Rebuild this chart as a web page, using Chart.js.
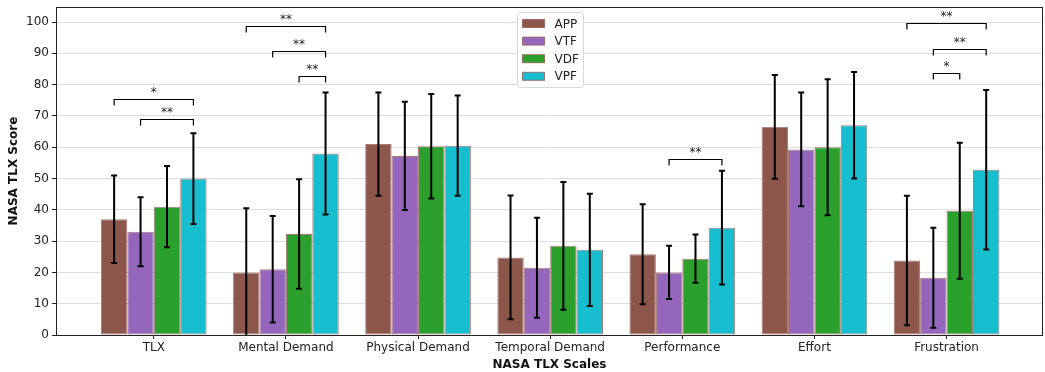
<!DOCTYPE html>
<html>
<head>
<meta charset="utf-8">
<script src="https://cdn.jsdelivr.net/npm/chart.js@4.4.1/dist/chart.umd.min.js"></script>
<style>
  html, body { margin: 0; padding: 0; background: #fff; }
  #wrap { width: 1045px; height: 372px; }
</style>
</head>
<body>
<div id="wrap"><canvas id="tlxChart" width="1045" height="372"></canvas></div>
<script>
// data
const categories = ['TLX', 'Mental Demand', 'Physical Demand', 'Temporal Demand', 'Performance', 'Effort', 'Frustration'];
const seriesNames = ['APP', 'VTF', 'VDF', 'VPF'];
const appMean = [37.0, 20.0, 61.0, 24.8, 25.8, 66.5, 23.8];
const appErr  = [14.0, 20.5, 16.5, 19.8, 16.0, 16.6, 20.7];
const vtfMean = [33.0, 21.0, 57.2, 21.5, 20.0, 59.3, 18.3];
const vtfErr  = [11.0, 17.0, 17.3, 16.0, 8.5, 18.2, 16.0];
const vdfMean = [41.0, 32.3, 60.3, 28.5, 24.4, 60.0, 39.7];
const vdfErr  = [13.0, 17.5, 16.7, 20.4, 7.7, 21.7, 21.7];
const vpfMean = [50.0, 58.0, 60.5, 27.2, 34.3, 67.0, 52.8];
const vpfErr  = [14.5, 19.5, 16.0, 17.9, 18.2, 17.0, 25.5];
const yTicks = [0, 10, 20, 30, 40, 50, 60, 70, 80, 90, 100];

// significance brackets: category, from series, to series, height, label
const sigCategory = [0, 0, 1, 1, 1, 4, 6, 6, 6];
const sigFrom     = [0, 1, 0, 1, 2, 1, 0, 1, 1];
const sigTo       = [3, 3, 3, 3, 3, 3, 3, 3, 2];
const sigHeight   = [75.5, 69.0, 98.7, 90.7, 82.8, 56.3, 99.7, 91.5, 83.7];
const sigLabel    = ['*', '**', '**', '**', '**', '**', '**', '**', '*'];

const colors = ['#8c564b', '#9467bd', '#2ca02c', '#17becf'];
const means = [appMean, vtfMean, vdfMean, vpfMean];
const errs = [appErr, vtfErr, vdfErr, vpfErr];
const FONT = "'DejaVu Sans', sans-serif";
const EDGE = 'rgba(150, 90, 80, 0.8)';

const datasets = seriesNames.map(function (name, s) {
    return {
        label: name,
        data: means[s].map(function (v, i) { return { x: i, y: v }; }),
        backgroundColor: colors[s],
        borderColor: EDGE,
        borderWidth: 1,
        borderSkipped: false,
        categoryPercentage: 0.8,
        barPercentage: 1.0
    };
});

// error bars + brackets + frame + legend
const extras = {
    id: 'extras',
    afterDatasetsDraw(chart) {
        const ctx = chart.ctx;
        const y = chart.scales.y;
        const area = chart.chartArea;

        ctx.save();
        ctx.beginPath();
        ctx.rect(area.left, area.top, area.right - area.left, area.bottom - area.top);
        ctx.clip();
        ctx.strokeStyle = '#000';
        ctx.lineWidth = 2;
        chart.data.datasets.forEach(function (ds, s) {
            const meta = chart.getDatasetMeta(s);
            meta.data.forEach(function (bar, i) {
                const top = y.getPixelForValue(means[s][i] + errs[s][i]);
                const bot = y.getPixelForValue(means[s][i] - errs[s][i]);
                ctx.beginPath();
                ctx.moveTo(bar.x, top); ctx.lineTo(bar.x, bot);
                ctx.moveTo(bar.x - 3, top); ctx.lineTo(bar.x + 3, top);
                ctx.moveTo(bar.x - 3, bot); ctx.lineTo(bar.x + 3, bot);
                ctx.stroke();
            });
        });
        ctx.restore();

        // significance brackets
        ctx.save();
        ctx.strokeStyle = '#000';
        ctx.lineWidth = 1.2;
        ctx.fillStyle = '#222';
        ctx.font = '12px ' + FONT;
        ctx.textAlign = 'center';
        ctx.textBaseline = 'bottom';
        sigCategory.forEach(function (c, k) {
            const x1 = chart.getDatasetMeta(sigFrom[k]).data[c].x;
            const x2 = chart.getDatasetMeta(sigTo[k]).data[c].x;
            const yy = Math.round(y.getPixelForValue(sigHeight[k])) + 0.5;
            const drop = yy + 6;
            ctx.beginPath();
            ctx.moveTo(x1, drop); ctx.lineTo(x1, yy); ctx.lineTo(x2, yy); ctx.lineTo(x2, drop);
            ctx.stroke();
            ctx.fillText(sigLabel[k], (x1 + x2) / 2, yy - 1);
        });
        ctx.restore();

        // frame
        ctx.save();
        ctx.strokeStyle = '#222';
        ctx.lineWidth = 1;
        ctx.strokeRect(Math.round(area.left) + 0.5, Math.round(area.top) + 0.5,
            Math.round(area.right - area.left) - 1, Math.round(area.bottom - area.top));
        ctx.restore();

        // legend, upper center inside the axes
        ctx.save();
        const lw = 66, lh = 75;
        const lx = Math.round((area.left + area.right) / 2 - lw / 2) + 0.5;
        const ly = Math.round(area.top + 5) + 0.5;
        ctx.fillStyle = 'rgba(255,255,255,0.85)';
        ctx.strokeStyle = '#d8d8d8';
        ctx.lineWidth = 1;
        ctx.beginPath();
        ctx.roundRect(lx, ly, lw, lh, 3);
        ctx.fill();
        ctx.stroke();
        ctx.font = '12px ' + FONT;
        ctx.textAlign = 'left';
        ctx.textBaseline = 'middle';
        seriesNames.forEach(function (name, s) {
            const cy = ly + 11 + s * 17.6;
            ctx.fillStyle = colors[s];
            ctx.fillRect(lx + 5, cy - 4, 22, 8);
            ctx.strokeStyle = EDGE;
            ctx.strokeRect(lx + 5, cy - 4, 22, 8);
            ctx.fillStyle = '#222';
            ctx.fillText(name, lx + 37, cy + 1);
        });
        ctx.restore();
    }
};

const ctx = document.getElementById('tlxChart').getContext('2d');
const tlxChart = new Chart(ctx, {
    type: 'bar',
    data: { datasets: datasets },
    plugins: [extras],
    options: {
        responsive: false,
        animation: false,
        layout: { padding: { top: 7, right: 2, left: 0, bottom: 0 } },
        scales: {
            x: {
                type: 'linear',
                offset: false,
                min: -0.74,
                max: 6.73,
                afterBuildTicks: function (axis) {
                    axis.ticks = categories.map(function (c, i) { return { value: i }; });
                },
                afterFit: function (axis) {
                    axis.height = 37;
                    axis.paddingLeft = 0;
                    axis.paddingRight = 0;
                },
                ticks: {
                    autoSkip: false,
                    maxRotation: 0,
                    padding: 2,
                    color: '#222',
                    font: { family: FONT, size: 12 },
                    callback: function (v) { return categories[v]; }
                },
                grid: { offset: false, drawOnChartArea: false, drawTicks: true, tickLength: 4, color: '#222' },
                border: { display: false },
                title: {
                    display: true,
                    text: 'NASA TLX Scales',
                    color: '#111',
                    padding: { top: 1, bottom: 0 },
                    font: { family: FONT, size: 12, weight: 'bold' }
                }
            },
            y: {
                min: 0,
                max: 104.8,
                afterBuildTicks: function (axis) {
                    axis.ticks = yTicks.map(function (v) { return { value: v }; });
                },
                afterFit: function (axis) {
                    axis.width = 56;
                    axis.paddingTop = 0;
                    axis.paddingBottom = 0;
                },
                ticks: {
                    padding: 3,
                    color: '#222',
                    font: { family: FONT, size: 12 }
                },
                grid: { color: '#dddddd', lineWidth: 1, tickLength: 4, tickColor: '#222' },
                border: { display: false },
                title: {
                    display: true,
                    text: 'NASA TLX Score',
                    color: '#111',
                    padding: { top: 7, bottom: 0 },
                    font: { family: FONT, size: 12, weight: 'bold' }
                }
            }
        },
        plugins: {
            legend: { display: false },
            tooltip: { enabled: false }
        }
    }
});
</script>
</body>
</html>
